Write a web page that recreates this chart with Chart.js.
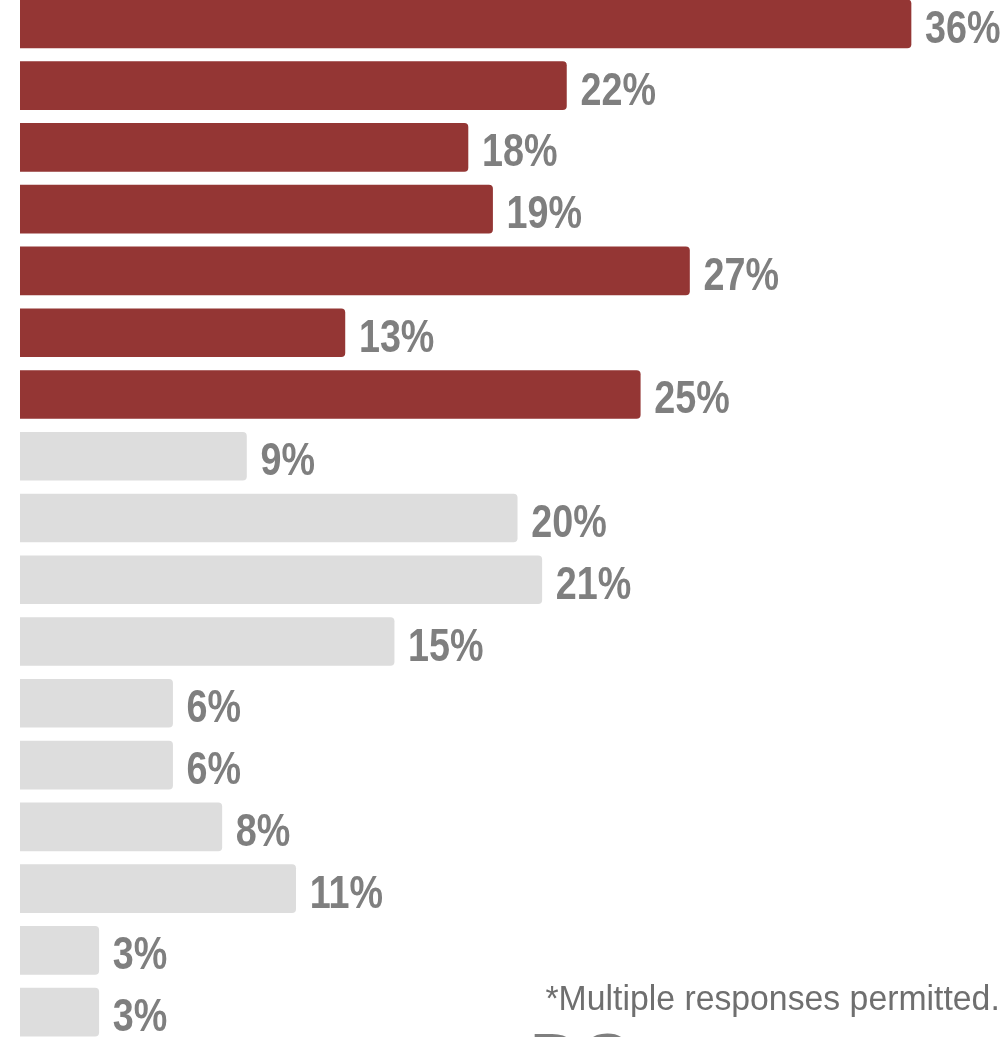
<!DOCTYPE html>
<html>
<head>
<meta charset="utf-8">
<script src="https://cdn.jsdelivr.net/npm/chart.js@4"></script>
<style>
    html, body { margin: 0; padding: 0; background: #fff; overflow: hidden; }
    #wrap { position: relative; width: 1007px; height: 1037px; overflow: hidden; }
    #wrap canvas { position: absolute; left: 0; top: -7px; }
    #note {
        position: absolute; right: 7px; top: 978px;
        font-family: "Liberation Sans", sans-serif;
        font-size: 35px; color: #6f6f6f; white-space: nowrap;
        transform: scaleX(0.965); transform-origin: right top;
    }
    #logo {
        position: absolute; left: 530px; top: 1024px;
        font-family: "Liberation Sans", sans-serif; font-weight: bold;
        font-size: 70px; color: #7f7f7f; line-height: 1;
    }
</style>
</head>
<body>
<div id="wrap">
    <canvas id="chart" width="1007" height="1050"></canvas>
    <div id="note">*Multiple responses permitted.</div>
    <div id="logo">DC</div>
</div>
<script>
// one value per row, top to bottom
var values = [36, 22, 18, 19, 27, 13, 25, 9, 20, 21, 15, 6, 6, 8, 11, 3, 3];
var highlighted = 7; // first rows drawn in red
var rows = values.map(function (v, i) { return "row" + (i + 1); });

var RED = "#943634";
var GREY = "#dddddd";

var colors = values.map(function (v, i) {
    return i < highlighted ? RED : GREY;
});

// percent labels at the end of each bar (squeezed to look condensed)
var valueLabels = {
    id: "valueLabels",
    afterDatasetsDraw: function (chart) {
        var ctx = chart.ctx;
        var meta = chart.getDatasetMeta(0);
        ctx.save();
        ctx.font = "bold 46px 'Liberation Sans', sans-serif";
        ctx.fillStyle = "#7f7f7f";
        ctx.textAlign = "left";
        ctx.textBaseline = "alphabetic";
        meta.data.forEach(function (bar, i) {
            ctx.save();
            ctx.translate(bar.x + 14, bar.y + 19);
            ctx.scale(0.82, 1);
            ctx.fillText(values[i] + "%", 0, 0);
            ctx.restore();
        });
        ctx.restore();
    }
};

new Chart(document.getElementById("chart"), {
    type: "bar",
    data: {
        labels: rows,
        datasets: [{
            data: values,
            base: -0.2,
            backgroundColor: colors,
            borderWidth: 0,
            borderRadius: { topLeft: 0, bottomLeft: 0, topRight: 4, bottomRight: 4 },
            borderSkipped: false,
            barThickness: 48
        }]
    },
    options: {
        indexAxis: "y",
        responsive: false,
        animation: false,
        layout: { padding: { left: 20, right: 0, top: 0, bottom: 0 } },
        scales: {
            x: { display: false, min: -0.2, max: 39.9 },
            y: { display: false }
        },
        plugins: {
            legend: { display: false },
            tooltip: { enabled: false }
        }
    },
    plugins: [valueLabels]
});
</script>
</body>
</html>
